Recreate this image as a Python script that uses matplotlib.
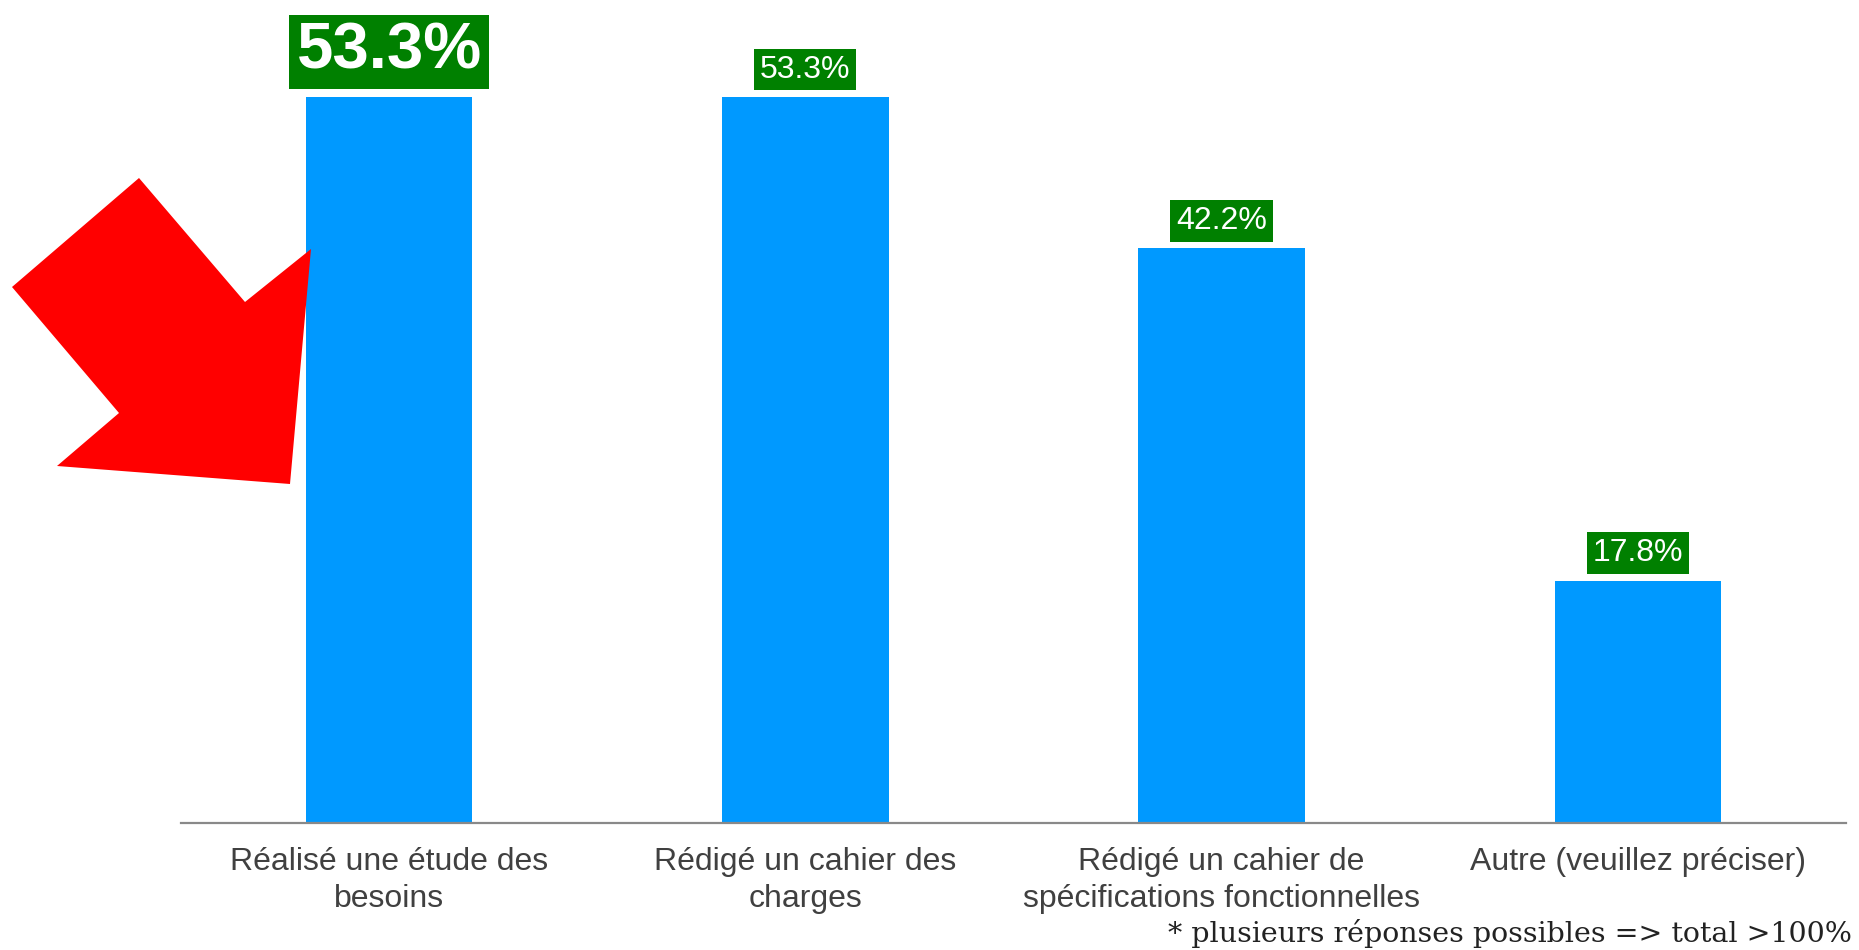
import matplotlib.pyplot as plt
from matplotlib.patches import Polygon

# Data
categories = ["Réalisé une étude des\nbesoins",
              "Rédigé un cahier des\ncharges",
              "Rédigé un cahier de\nspécifications fonctionnelles",
              "Autre (veuillez préciser)"]
values = [53.3, 53.3, 42.2, 17.8]
value_labels = ["53.3%", "53.3%", "42.2%", "17.8%"]
highlight = 0  # index of the emphasised bar

footnote = "* plusieurs réponses possibles => total >100%"

# red arrow outline, in figure pixels (from top-left)
arrow_px = [(139, 178), (12, 287), (119, 413), (57, 466),
            (290, 484), (311, 249), (245, 302)]

W, H = 1859, 950
plt.rcParams['font.family'] = ['Liberation Sans', 'DejaVu Sans']

fig = plt.figure(figsize=(W / 100, H / 100), dpi=100)
ax = fig.add_axes([181 / W, (H - 823) / H, (1846 - 181) / W, 823 / H])

x = range(len(categories))
ax.bar(x, values, width=0.4, color='#0099FF', zorder=3)
ax.set_xlim(-0.5, len(categories) - 0.5)
ax.set_ylim(0, 60.43)

for i, (v, lab) in enumerate(zip(values, value_labels)):
    if i == highlight:
        ax.annotate(lab, (i, v), xytext=(0, 11), textcoords='offset points',
                    ha='center', va='bottom', fontsize=47, fontweight='bold',
                    color='white', zorder=4,
                    bbox=dict(boxstyle='square,pad=0.11', fc='#008000', ec='none'))
    else:
        ax.annotate(lab, (i, v), xytext=(0, 9), textcoords='offset points',
                    ha='center', va='bottom', fontsize=23, color='white', zorder=4,
                    bbox=dict(boxstyle='square,pad=0.18', fc='#008000', ec='none'))

ax.set_xticks(list(x))
ax.set_xticklabels(categories, fontsize=23, color='#404040', linespacing=1.3)
ax.tick_params(axis='x', length=0, pad=17)
ax.set_yticks([])
for side in ['top', 'right', 'left']:
    ax.spines[side].set_visible(False)
ax.spines['bottom'].set_color('#898989')
ax.spines['bottom'].set_linewidth(1.6)
ax.spines['bottom'].set_zorder(5)

# decorative arrow pointing at the first bar
pts = [(px / W, 1 - py / H) for px, py in arrow_px]
fig.patches.append(Polygon(pts, closed=True, transform=fig.transFigure,
                           facecolor='#FF0000', edgecolor='none', zorder=1))

fig.text(1852 / W, 1 - 933 / H, footnote, ha='right', va='center',
         fontsize=20.5, family='DejaVu Serif', color='#222222')

fig.savefig('out.png', dpi=100)
